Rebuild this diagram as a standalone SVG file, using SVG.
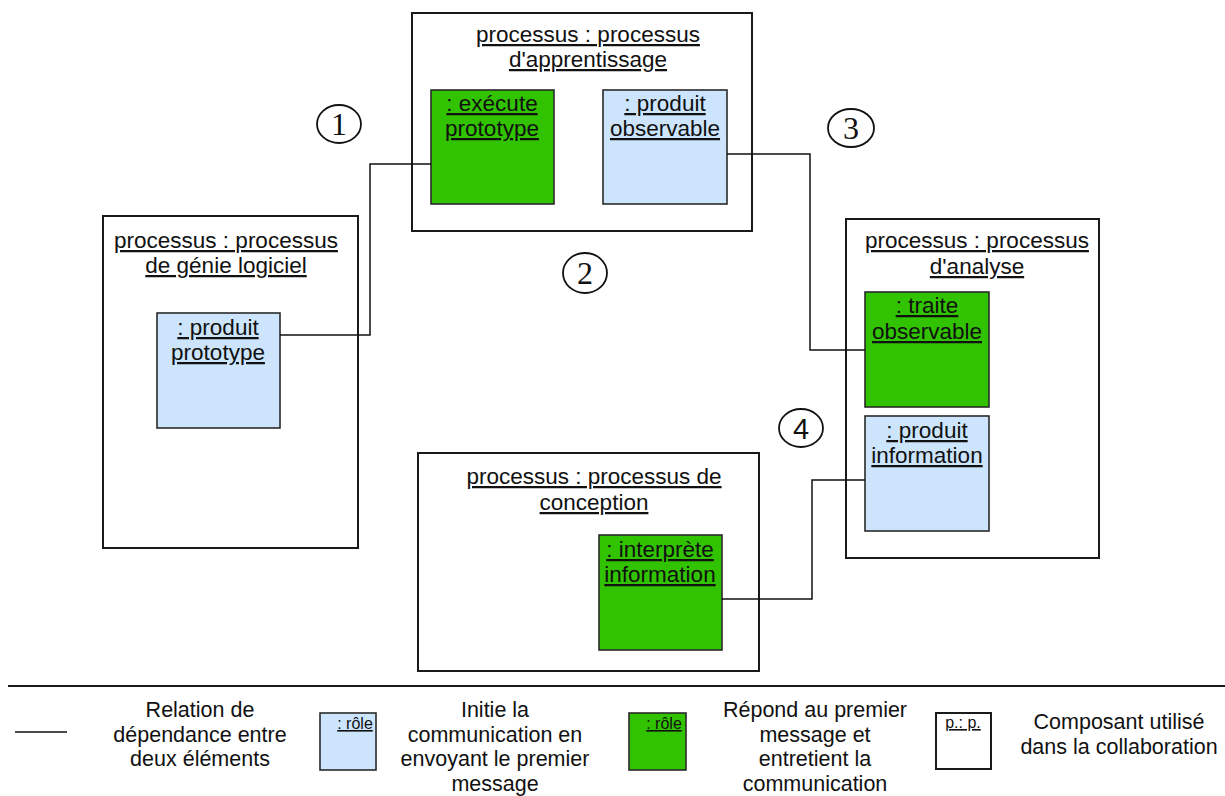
<svg xmlns="http://www.w3.org/2000/svg" width="1225" height="796" viewBox="0 0 1225 796">
  <style>
    text { font-family: "Liberation Sans", Arial, sans-serif; fill: #111; text-anchor: middle; }
    .title, .role { font-size: 22.5px; text-decoration: underline; }
    .frame { fill: #fff; stroke: #1a1a1a; stroke-width: 2; }
    .init { fill: #cce5fd; stroke: #2a2a2a; stroke-width: 1.6; }
    .resp { fill: #31c300; stroke: #2a2a2a; stroke-width: 1.6; }
    .wire { fill: none; stroke: #111; stroke-width: 1.5; }
    .step { fill: #fff; stroke: #111; stroke-width: 1.8; }
    .num { font-family: "Liberation Serif", "Times New Roman", serif; font-size: 32px; }
    .legend { font-size: 21.5px; }
    .small { font-size: 16px; text-decoration: underline; }
  </style>

  <!-- process frames -->
  <g id="apprentissage">
    <rect class="frame" x="412" y="13" width="340" height="218"/>
    <text class="title" x="588" y="42">processus : processus</text>
    <text class="title" x="588" y="67">d'apprentissage</text>
    <g id="execute-prototype">
      <rect class="resp" x="431" y="90" width="123" height="114"/>
      <text class="role" x="492" y="111">: exécute</text>
      <text class="role" x="492" y="136">prototype</text>
    </g>
    <g id="produit-observable">
      <rect class="init" x="603" y="90" width="124" height="114"/>
      <text class="role" x="665" y="111">: produit</text>
      <text class="role" x="665" y="136">observable</text>
    </g>
  </g>

  <g id="genie-logiciel">
    <rect class="frame" x="103" y="216" width="255" height="332"/>
    <text class="title" x="226" y="248">processus : processus</text>
    <text class="title" x="226" y="273">de génie logiciel</text>
    <g id="produit-prototype">
      <rect class="init" x="157" y="313" width="123" height="115"/>
      <text class="role" x="218" y="335">: produit</text>
      <text class="role" x="218" y="360">prototype</text>
    </g>
  </g>

  <g id="analyse">
    <rect class="frame" x="846" y="219" width="253" height="339"/>
    <text class="title" x="977" y="248">processus : processus</text>
    <text class="title" x="977" y="274">d'analyse</text>
    <g id="traite-observable">
      <rect class="resp" x="865" y="292" width="124" height="115"/>
      <text class="role" x="927" y="313">: traite</text>
      <text class="role" x="927" y="339">observable</text>
    </g>
    <g id="produit-information">
      <rect class="init" x="865" y="416" width="124" height="115"/>
      <text class="role" x="927" y="438">: produit</text>
      <text class="role" x="927" y="463">information</text>
    </g>
  </g>

  <g id="conception">
    <rect class="frame" x="418" y="453" width="341" height="218"/>
    <text class="title" x="594" y="484">processus : processus de</text>
    <text class="title" x="594" y="510">conception</text>
    <g id="interprete-information">
      <rect class="resp" x="599" y="535" width="123" height="115"/>
      <text class="role" x="660" y="557">: interprète</text>
      <text class="role" x="660" y="582">information</text>
    </g>
  </g>

  <!-- dependency connectors -->
  <g id="connectors">
    <path class="wire" d="M280,335 H370 V164 H431"/>
    <path class="wire" d="M727,154 H810 V350 H865"/>
    <path class="wire" d="M722,599 H812 V480 H865"/>
  </g>

  <!-- step markers -->
  <g id="steps">
    <ellipse class="step" cx="339" cy="124" rx="22" ry="19"/>
    <text class="num" x="339" y="135">1</text>
    <ellipse class="step" cx="585" cy="273" rx="22" ry="20"/>
    <text class="num" x="585" y="284">2</text>
    <ellipse class="step" cx="851" cy="128" rx="23" ry="19"/>
    <text class="num" x="851" y="139">3</text>
    <ellipse class="step" cx="801" cy="428" rx="22" ry="19"/>
    <text class="num" x="801" y="439" style="font-family:'Liberation Sans', Arial, sans-serif; font-size:29px">4</text>
  </g>

  <!-- legend -->
  <g id="legend">
    <line x1="8" y1="686" x2="1225" y2="686" stroke="#1a1a1a" stroke-width="2"/>
    <line x1="15" y1="732" x2="67" y2="732" stroke="#111" stroke-width="1.5"/>
    <text class="legend" x="200" y="717">Relation de</text>
    <text class="legend" x="200" y="742">dépendance entre</text>
    <text class="legend" x="200" y="766">deux éléments</text>

    <rect class="init" x="320" y="713" width="56" height="57"/>
    <text class="small" x="355" y="729">: rôle</text>
    <text class="legend" x="495" y="717">Initie la</text>
    <text class="legend" x="495" y="742">communication en</text>
    <text class="legend" x="495" y="766">envoyant le premier</text>
    <text class="legend" x="495" y="791">message</text>

    <rect class="resp" x="629" y="713" width="57" height="57"/>
    <text class="small" x="664" y="729">: rôle</text>
    <text class="legend" x="815" y="717">Répond au premier</text>
    <text class="legend" x="815" y="742">message et</text>
    <text class="legend" x="815" y="766">entretient la</text>
    <text class="legend" x="815" y="791">communication</text>

    <rect class="frame" x="936" y="713" width="55" height="56" stroke-width="1.6"/>
    <text class="small" x="963" y="728">p.: p.</text>
    <text class="legend" x="1119" y="729">Composant utilisé</text>
    <text class="legend" x="1119" y="754">dans la collaboration</text>
  </g>
</svg>
